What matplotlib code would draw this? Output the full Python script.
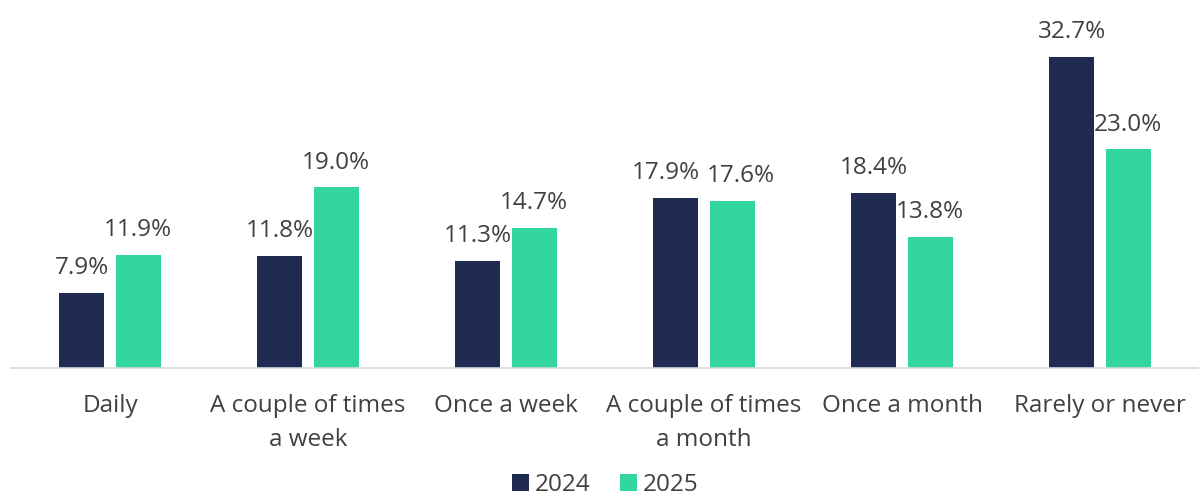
import matplotlib
matplotlib.use("Agg")
import matplotlib.pyplot as plt
import numpy as np

categories = ["Daily", "A couple of times\na week", "Once a week",
              "A couple of times\na month", "Once a month", "Rarely or never"]
years = ["2024", "2025"]
values_2024 = [7.9, 11.8, 11.3, 17.9, 18.4, 32.7]
values_2025 = [11.9, 19.0, 14.7, 17.6, 13.8, 23.0]

colors = ["#1F2B52", "#33D6A0"]
plt.rcParams['font.family'] = ['Open Sans', 'DejaVu Sans']

fig = plt.figure(figsize=(11.99, 4.98), dpi=100)
ax = fig.add_axes([11/1199, 130/498, 1188/1199, 368/498])

x = np.arange(len(categories))
w = 0.227
off = 0.143
# small horizontal nudges (pixels) for labels that would collide
nudge_2024 = [0, 0, 0, -10, 0, 0]
nudge_2025 = [0, 0, 0, 9, 0, 0]
for vals, c, o, lab, nudge in [(values_2024, colors[0], -off, years[0], nudge_2024),
                               (values_2025, colors[1], off, years[1], nudge_2025)]:
    bars = ax.bar(x + o, vals, width=w, color=c, label=lab)
    for b, v, n in zip(bars, vals, nudge):
        ax.annotate(f"{v:.1f}%", (b.get_x() + b.get_width()/2, v),
                    xytext=(n * 0.72, 13.5), textcoords="offset points",
                    ha="center", va="baseline", fontsize=17.5, color="#404040")

ax.set_xlim(-0.5, len(categories) - 0.5)
ax.set_ylim(0, 38.7)
ax.set_yticks([])
ax.set_xticks(x)
ax.set_xticklabels(categories, fontsize=17.5, color="#404040", linespacing=1.55)
ax.tick_params(axis="x", length=0, pad=19)
for s in ["top", "right", "left"]:
    ax.spines[s].set_visible(False)
ax.spines["bottom"].set_color("#D9D9D9")
ax.spines["bottom"].set_linewidth(1.2)

fig.legend(loc="lower center", bbox_to_anchor=(0.505, -0.042), ncol=2, frameon=False,
           fontsize=17.5, handlelength=0.7, handleheight=0.7, handletextpad=0.25,
           columnspacing=1.2, labelcolor="#404040")

fig.savefig("out.png", dpi=100)
